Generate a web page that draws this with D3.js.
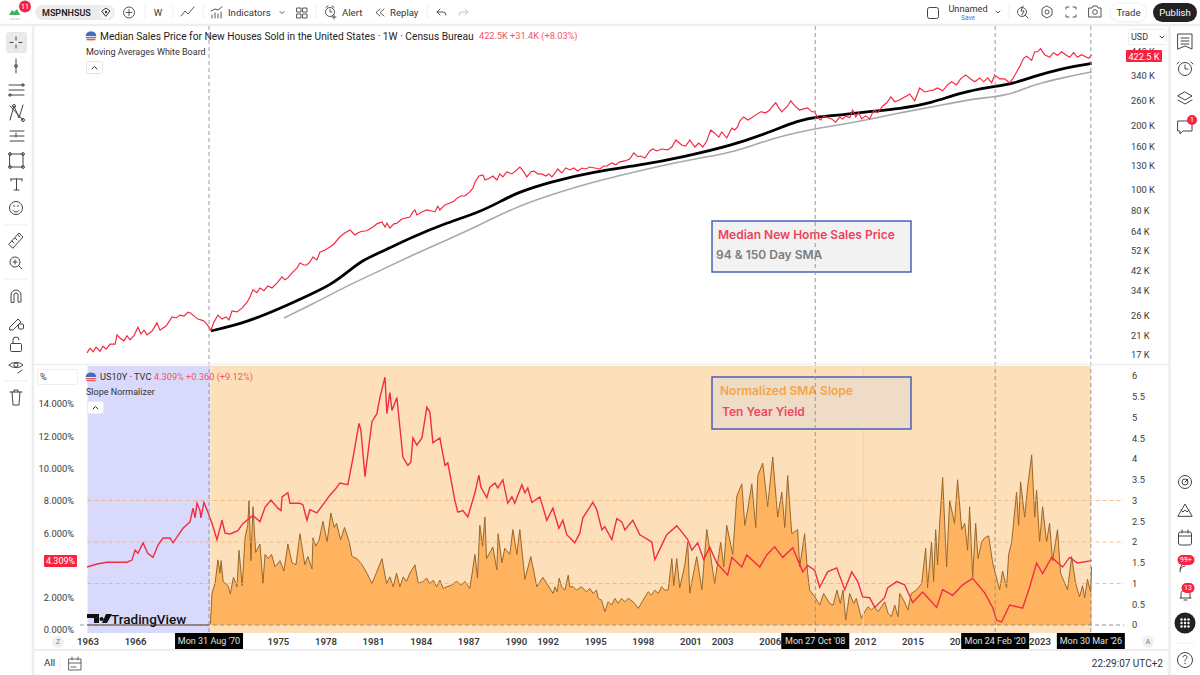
<!DOCTYPE html>
<html>
<head>
<meta charset="utf-8">
<script src="https://cdn.jsdelivr.net/npm/d3@7"></script>
<style>
  html, body { margin: 0; padding: 0; background: #fff; }
  svg { display: block; font-family: Roboto, sans-serif; }
  .tick text { fill: #3a3a3a; }
</style>
</head>
<body>
<div id="chart"></div>
<script>
// median new house price (thousand USD)
var priceDates = [1962.97,1963.16,1963.35,1963.54,1963.79,1963.98,1964.17,1964.42,1964.74,1964.86,1965.05,1965.3,1965.49,1965.68,1965.93,1966.18,1966.37,1966.56,1966.75,1967.07,1967.38,1967.57,1967.76,1967.95,1968.33,1968.58,1968.83,1969.08,1969.33,1969.52,1969.78,1969.96,1970.28,1970.41,1970.59,1970.78,1970.97,1971.22,1971.48,1971.73,1971.92,1972.11,1972.42,1972.74,1973.05,1973.24,1973.43,1973.68,1973.87,1974.12,1974.37,1974.63,1974.94,1975.26,1975.45,1975.63,1975.95,1976.2,1976.39,1976.64,1976.83,1977.02,1977.21,1977.46,1977.65,1977.97,1978.28,1978.53,1978.91,1979.22,1979.54,1979.73,1979.86,1980.04,1980.23,1980.61,1980.99,1981.24,1981.56,1981.75,1981.87,1982.06,1982.31,1982.5,1982.82,1983.07,1983.32,1983.51,1983.64,1983.76,1984.08,1984.39,1984.7,1984.9,1985.08,1985.21,1985.53,1985.84,1986.09,1986.28,1986.53,1986.78,1987.1,1987.29,1987.42,1987.67,1987.92,1988.05,1988.36,1988.55,1988.8,1988.99,1989.18,1989.43,1989.75,1990.06,1990.25,1990.5,1990.69,1990.94,1991.13,1991.38,1991.64,1991.89,1992.08,1992.27,1992.52,1992.64,1992.9,1993.15,1993.4,1993.65,1993.9,1994.16,1994.41,1994.66,1995.29,1995.54,1995.73,1996.05,1996.3,1996.55,1996.87,1997.18,1997.43,1997.68,1997.87,1998.13,1998.44,1998.63,1998.88,1999.2,1999.57,1999.83,2000.08,2000.45,2000.71,2000.96,2001.28,2001.53,2001.78,2002.03,2002.28,2002.53,2002.79,2002.98,2003.29,2003.61,2003.79,2003.98,2004.11,2004.36,2004.61,2004.87,2005.12,2005.43,2005.75,2006.0,2006.19,2006.38,2006.57,2006.76,2007.13,2007.32,2007.58,2007.89,2008.14,2008.39,2008.65,2008.83,2009.02,2009.22,2009.41,2009.65,2009.91,2010.16,2010.41,2010.6,2010.79,2011.04,2011.23,2011.42,2011.61,2011.8,2012.05,2012.3,2012.56,2012.81,2013.12,2013.38,2013.63,2013.88,2014.19,2014.5,2014.63,2014.82,2015.14,2015.45,2015.77,2016.08,2016.33,2016.58,2016.9,2017.21,2017.47,2017.77,2018.03,2018.35,2018.66,2018.92,2019.24,2019.49,2019.74,2019.99,2020.18,2020.49,2020.81,2021.12,2021.31,2021.56,2021.75,2022.0,2022.19,2022.51,2022.7,2022.89,2023.07,2023.33,2023.64,2023.89,2024.14,2024.4,2024.65,2024.9,2025.15,2025.4,2025.65,2025.85,2026.1,2026.29];
var priceValues = [17.4,18.3,17.6,18.5,17.7,18.7,18.1,19.1,19.1,21.1,20.4,19.8,20.9,20,20.9,22.9,21.3,22.2,21.1,22,24,22.2,22.7,23.2,25.6,25.3,26.1,25.8,26.9,26.6,25.6,25,24.6,24.2,23.3,22.2,24.2,26.1,25,25.6,24.8,27.3,27,28.1,29.9,31.7,34.2,33.2,34.9,33.9,35.7,34.9,36.8,39.3,38.1,38.9,41.5,43.2,45.7,44.7,44.7,46.2,48.7,47.2,51.3,52.5,54.2,56,60.5,63,65.1,63,61.7,63,64,64.5,67.2,69.5,71,67.2,70,66.4,69.5,70,73.2,74,74.8,79,80.7,76.5,79,80.7,79.8,79,83.9,80.7,85.2,86.9,88.6,91.4,93.7,93.7,98,102,108.7,116.2,117.5,111.4,113.8,116.2,111.4,118.8,115,121.4,118.8,124,128,121.4,115,121.4,122.7,118.8,118.8,116.2,118.8,115,121.4,125.3,120,126.6,124,126.6,122.7,126.6,125.3,128,125.3,129.4,129.4,133.7,131,135.2,136.6,139.5,149,143,144,141,152,155.3,152,155.3,153.7,158.6,171,162,160.2,171,158.6,165.5,158.6,169,190.5,184,176.5,186.4,174.6,194.5,190.5,197,209.5,219,212,217,224,231.5,229,236,246.5,255,241.5,231.5,246.5,260.5,246.5,236,239,241.5,231.5,231.5,217,212,221.5,217,214.5,207,219,214.5,221.5,217,236,219,229,214.5,221.5,214.5,236,229,246.5,255,271.5,258,263,271.5,274.5,280.5,260.5,299,286.5,290,293,299,290,309,319.5,309,329.5,344,329.5,319.5,333,319.5,333,316,344,329.5,329.5,316,329.5,355,376,411,420,402,441,441,456,427,415.5,436.5,424.5,441,427,415.5,436.5,415.5,427,420,411,427,398,422.5];

// 94 and 150 period moving averages of the price
var sma94Dates = [1970.78,1973.05,1975.13,1977.21,1978.28,1979.35,1980.36,1981.43,1983.51,1985.65,1987.73,1989.06,1990.06,1992.14,1994.85,1998.0,2000.52,2003.67,2005.81,2007.89,2008.96,2011.04,2012.11,2014.19,2016.27,2017.97,2020.05,2021.31,2022.57,2024.27,2026.29];
var sma94Values = [22,24.2,28,33,36,41.2,47.2,51,60.5,70.3,79,88.6,97,109,121.4,131,142.5,162,184,212,219,226,231.5,239,255,284,303,313,337,367,389];
var sma150Dates = [1975.38,1977.21,1979.35,1981.43,1983.51,1985.65,1987.73,1989.81,1992.14,1994.85,1998.44,2001.59,2003.92,2005.81,2008.33,2011.04,2012.11,2014.19,2016.27,2018.41,2020.05,2021.31,2022.57,2024.7,2026.29];
var sma150Values = [25.3,29.4,35.7,42,49.8,58.5,68.7,82.1,94.8,109,126.6,141,151,171,190.5,205,212,229,244,263,271.5,280.5,309,337,355];

// US ten year yield (%)
var yieldDates = [1962.97,1963.6,1964.23,1965.49,1965.8,1966.0,1966.18,1966.5,1966.8,1967.13,1967.44,1967.76,1968.2,1968.39,1969.02,1969.46,1969.65,1969.78,1969.9,1970.09,1970.15,1970.34,1970.59,1970.85,1971.16,1971.48,1971.67,1971.98,1972.48,1972.8,1973.43,1973.87,1974.19,1974.56,1975.0,1975.2,1975.26,1975.63,1975.76,1976.39,1976.58,1976.83,1977.02,1977.46,1978.28,1978.6,1978.91,1979.41,1979.73,1980.11,1980.23,1980.49,1980.74,1980.93,1981.24,1981.43,1981.75,1981.87,1982.06,1982.19,1982.5,1982.88,1983.19,1983.38,1983.51,1983.76,1984.08,1984.39,1984.58,1984.77,1985.21,1985.53,1985.71,1986.15,1986.34,1986.66,1986.97,1987.42,1987.67,1987.79,1988.17,1988.36,1988.68,1988.86,1989.18,1989.49,1989.75,1989.93,1990.38,1990.57,1990.75,1991.01,1991.51,1991.95,1992.33,1992.71,1992.96,1993.21,1993.71,1994.03,1994.22,1994.85,1995.1,1995.42,1995.6,1996.05,1996.36,1996.68,1996.87,1997.37,1997.81,1998.57,1998.76,1999.26,1999.51,2000.14,2000.52,2000.83,2001.09,2001.46,2001.84,2002.22,2002.66,2003.35,2003.61,2004.24,2004.55,2005.37,2005.81,2006.31,2006.82,2007.45,2008.08,2008.39,2008.83,2009.15,2009.65,2010.22,2010.73,2011.17,2011.55,2011.86,2012.3,2012.62,2013.24,2013.43,2014.0,2014.5,2015.01,2015.64,2016.52,2016.9,2017.53,2018.16,2018.79,2019.55,2020.05,2020.3,2020.62,2021.12,2021.94,2022.38,2022.82,2023.2,2023.77,2024.46,2024.9,2025.4,2026.29];
var yieldValues = [3.9,4.09,4.2,4.2,4.33,4.95,4.75,5.4,4.75,4.5,5.25,5.7,5.7,5.4,6.3,6.7,7.55,6.95,7.85,7.4,6.95,7.9,7.3,6.6,5.6,6.8,6,5.95,6.15,6.6,7.1,6.7,7.6,8.05,7.55,7.4,8.25,8.5,7.85,7.85,7.75,6.8,7.45,7.25,8.35,8.7,9.1,9,10.65,12.8,12.4,9.5,11.45,12.9,13.4,14.4,15.66,13.4,14.7,13.6,14.4,10.7,10.2,10.4,11.9,11.45,11.9,13.8,13.5,11.6,11.9,10.2,10.35,8.05,7.3,7.4,7,8.5,9.6,8.85,8.2,8.85,9.1,8.8,9.3,7.85,8.25,7.85,9,8.5,8.8,7.9,8.25,6.8,7.55,6.3,6.8,5.9,5.4,6,6.95,7.9,7.45,6.2,6.4,5.6,6.9,6.7,6.2,6.8,5.9,5.45,4.35,5.4,5.9,6.45,6,5.6,4.95,5.4,4.35,5.15,4.15,3.4,4.5,3.9,4.65,3.9,4.65,5.15,4.5,5.1,3.6,4,3.7,2.65,3.6,3.85,2.5,3.6,3,2.05,2,1.4,2,2.6,3,2.8,1.7,2.35,1.4,2.5,2.15,2.8,3.2,2.3,1.4,0.6,0.5,1.55,1.35,2.65,4.15,3.5,4.5,3.9,4.5,4.15,4.3];

// normalized SMA slope (right scale)
var slopeDates = [1962.97,1970.66,1970.75,1970.85,1971.04,1971.22,1971.35,1971.42,1971.55,1971.85,1972.0,1972.2,1972.42,1972.55,1972.75,1972.93,1973.1,1973.18,1973.3,1973.43,1973.6,1973.87,1974.06,1974.19,1974.4,1974.6,1974.82,1975.13,1975.38,1975.63,1975.89,1976.14,1976.39,1976.7,1976.89,1977.15,1977.21,1977.4,1977.6,1977.84,1978.1,1978.34,1978.55,1978.7,1978.95,1979.2,1979.5,1979.67,1979.98,1980.3,1980.61,1980.93,1981.2,1981.56,1981.85,1982.06,1982.27,1982.48,1982.69,1982.9,1983.11,1983.32,1983.64,1983.85,1984.16,1984.37,1984.58,1984.79,1985.0,1985.21,1985.42,1985.63,1985.95,1986.26,1986.57,1986.78,1987.1,1987.42,1987.58,1987.73,1987.9,1988.05,1988.15,1988.55,1988.8,1988.88,1989.12,1989.3,1989.62,1989.81,1990.06,1990.25,1990.57,1990.94,1991.32,1991.7,1992.35,1992.46,1992.6,1992.73,1992.88,1993.09,1993.3,1993.4,1993.61,1993.82,1994.14,1994.45,1994.66,1994.87,1995.08,1995.19,1995.4,1995.61,1995.82,1996.03,1996.24,1996.45,1996.66,1996.87,1997.08,1997.39,1997.71,1998.02,1998.34,1998.55,1998.76,1998.97,1999.18,1999.39,1999.6,1999.83,1999.95,2000.14,2000.33,2000.65,2000.83,2000.96,2001.4,2001.72,2002.03,2002.53,2002.91,2003.1,2003.29,2003.67,2003.92,2004.24,2004.43,2004.62,2004.87,2005.12,2005.25,2005.56,2005.87,2006.19,2006.5,2006.76,2006.95,2007.13,2007.39,2007.76,2007.89,2008.2,2008.39,2008.52,2008.84,2009.15,2009.4,2009.78,2010.0,2010.24,2010.45,2010.62,2010.79,2011.04,2011.29,2011.46,2011.78,2011.99,2012.2,2012.41,2012.62,2012.83,2013.04,2013.25,2013.46,2013.67,2013.88,2014.09,2014.19,2014.44,2014.71,2014.92,2015.24,2015.58,2015.83,2015.95,2016.2,2016.33,2016.46,2016.58,2016.71,2016.9,2017.15,2017.34,2017.65,2017.84,2018.1,2018.29,2018.47,2018.6,2018.79,2018.98,2019.13,2019.36,2019.55,2019.8,2020.05,2020.49,2020.68,2020.93,2021.06,2021.25,2021.56,2021.69,2021.81,2022.07,2022.25,2022.51,2022.7,2022.82,2023.01,2023.2,2023.45,2023.64,2023.83,2024.14,2024.33,2024.77,2025.03,2025.28,2025.53,2025.72,2025.85,2026.03,2026.22,2026.29];
var slopeValues = [0,0,0.05,0.77,1,1.57,1.25,1.55,1.05,0.95,0.75,1.15,0.92,1.8,0.95,2.1,2.4,3,1.55,2.85,1.75,1.95,1,1.7,1.6,1.7,1.4,1.55,1.3,1.95,1.5,1.45,2.2,1.45,1.65,1.35,2.1,1.9,2.05,2.5,2,2.7,2.35,2.45,2.05,2.35,2,1.65,1.6,1.45,1.25,1,1.25,1.6,1,1.16,0.92,1.25,0.92,1.16,1.05,1.25,1.45,1,1.05,1.13,1,1.08,0.92,1.08,0.88,0.92,0.96,1.05,0.96,1.05,0.88,1.7,1.13,2.4,1.9,2.6,1.6,1.88,1.33,2.2,1.5,1.85,1.7,2.3,1.7,2.3,1.1,1.65,0.92,1.15,0.76,0.92,0.8,1.13,0.92,0.84,1.2,0.92,0.92,0.84,0.92,0.8,0.88,0.76,0.84,0.64,0.6,0.32,0.56,0.48,0.64,0.52,0.64,0.56,0.64,0.56,0.4,0.6,0.8,0.72,0.84,0.76,0.92,0.84,0.84,1.6,0.95,1.6,0.9,1.45,2,0.77,1.65,0.85,2.3,1,2,1.4,2.4,1.7,3.1,3.4,2.4,2.8,3.4,2.35,3.6,3.9,2.85,4.05,2.6,3.2,2.35,3.6,2.2,2.3,1.4,2.2,1.25,0.84,0.68,0.48,0.76,0.52,0.48,0.84,0.52,0.84,0.12,0.76,0.52,0.64,0.16,0.32,0.44,0.36,0.44,0.32,0.44,0.56,0.28,0.2,0.48,0.2,0.76,0.6,0.36,0.76,0.84,1,1.85,0.9,2,1.05,2.3,1.45,2.45,3.55,1.4,3,2.45,3.5,2.3,2.45,1.8,2.85,1.15,2.45,1.6,2,2.1,2.15,1.5,0.85,1.3,0.9,1.7,2,3.2,2.4,3.45,2.6,3.3,4.1,2.6,3.25,2,2.85,2,2.45,1.55,2.3,1.25,0.85,1.65,1,0.68,0.95,0.65,1.1,0.8,1.4];

// axis labels
var priceTicks = [17,21,26,34,42,52,64,80,100,130,160,200,260,340,440];
var yieldTicks = [0,2,6,8,10,12,14];
var slopeTicks = [0,0.5,1,1.5,2,2.5,3,3.5,4,4.5,5,5.5,6];
var yearTicks = [1963,1966,1975,1978,1981,1984,1987,1990,1992,1995,1998,2001,2003,2006,2012,2015,2018,2023];
var slopeLevels = [1,2,3];
// crosshair dates and their tags
var markerDates = [1970.66,2008.87,2020.21,2026.24];
var markerLabels = ["Mon 31 Aug '70","Mon 27 Oct '08","Mon 24 Feb '20","Mon 30 Mar '26"];

var width = 1200, height = 675;
var red = "#f7233f", ink = "#2a2e39";

var svg = d3.select("#chart").append("svg")
    .attr("width", width)
    .attr("height", height);

// scales
var x = d3.scaleLinear().domain([1963, 2026.25]).range([87.5, 1091]);
var yPrice = d3.scaleLog().domain([17, 340]).range([355, 76]);
var yYield = d3.scaleLinear().domain([0, 14]).range([630, 404]);
var ySlope = d3.scaleLinear().domain([0, 6]).range([625, 376]);

// pane backgrounds
svg.append("rect").attr("x", x(1963)).attr("y", 366)
    .attr("width", x(1970.75) - x(1963)).attr("height", 267).attr("fill", "#d9d9fb");
svg.append("rect").attr("x", x(1970.75)).attr("y", 366)
    .attr("width", x(2026.25) - x(1970.75)).attr("height", 267).attr("fill", "#fddfba");

// slope area and line
var slopePoints = slopeDates.map(function(d, i) { return [d, slopeValues[i]]; });
svg.append("path").datum(slopePoints)
    .attr("fill", "#ffb35f")
    .attr("d", d3.area()
        .x(function(d) { return x(d[0]); })
        .y0(ySlope(0))
        .y1(function(d) { return ySlope(d[1]); }));
svg.append("path").datum(slopePoints)
    .attr("fill", "none").attr("stroke", "#97672e").attr("stroke-width", 1)
    .attr("d", d3.line()
        .x(function(d) { return x(d[0]); })
        .y(function(d) { return ySlope(d[1]); }));

// slope level guides
svg.selectAll(".level").data(slopeLevels).enter().append("line")
    .attr("x1", x(1963)).attr("x2", 1124)
    .attr("y1", function(d) { return ySlope(d); })
    .attr("y2", function(d) { return ySlope(d); })
    .attr("stroke", "#f0b070").attr("stroke-width", 0.8).attr("stroke-dasharray", "4,3");
svg.append("line").attr("x1", 80).attr("x2", 1124).attr("y1", ySlope(0)).attr("y2", ySlope(0))
    .attr("stroke", "#8a8a8a").attr("stroke-width", 0.9).attr("stroke-dasharray", "4,3");
svg.append("line").attr("x1", x(1963)).attr("x2", x(1970.66)).attr("y1", ySlope(0)).attr("y2", ySlope(0))
    .attr("stroke", "#77727f").attr("stroke-width", 1.2);

// faint vertical grid line in the lower pane
svg.append("line").attr("x1", x(2011.9)).attr("x2", x(2011.9)).attr("y1", 366).attr("y2", 633)
    .attr("stroke", "#d9d3ee").attr("stroke-width", 1);

// yield
svg.append("path").datum(yieldDates.map(function(d, i) { return [d, yieldValues[i]]; }))
    .attr("fill", "none").attr("stroke", "#f22c45").attr("stroke-width", 1.4)
    .attr("d", d3.line()
        .x(function(d) { return x(d[0]); })
        .y(function(d) { return yYield(d[1]); }));

// price and moving averages
function priceLine(curve) {
    var l = d3.line()
        .x(function(d) { return x(d[0]); })
        .y(function(d) { return yPrice(d[1]); });
    return curve ? l.curve(curve) : l;
}
svg.append("path").datum(sma150Dates.map(function(d, i) { return [d, sma150Values[i]]; }))
    .attr("fill", "none").attr("stroke", "#a9a9a9").attr("stroke-width", 1.6)
    .attr("d", priceLine(d3.curveBasis));
svg.append("path").datum(sma94Dates.map(function(d, i) { return [d, sma94Values[i]]; }))
    .attr("fill", "none").attr("stroke", "#000").attr("stroke-width", 2.8)
    .attr("d", priceLine(d3.curveBasis));
svg.append("path").datum(priceDates.map(function(d, i) { return [d, priceValues[i]]; }))
    .attr("fill", "none").attr("stroke", red).attr("stroke-width", 1.15)
    .attr("d", priceLine());

// annotation boxes
function noteBox(y0, y1, fill) {
    svg.append("rect").attr("x", 712).attr("y", y0).attr("width", 199).attr("height", y1 - y0)
        .attr("fill", fill).attr("stroke", "#3b57b8").attr("stroke-width", 1.4);
}
function noteText(tx, ty, s, color) {
    svg.append("text").attr("x", tx).attr("y", ty).attr("dy", "0.35em")
        .attr("font-family", "Inter, sans-serif")
        .attr("font-size", 12).attr("font-weight", 600).attr("fill", color).text(s);
}
noteBox(221, 272, "#f2f2f2");
noteText(718, 235, "Median New Home Sales Price", "#f0415a");
noteText(716, 255, "94 & 150 Day SMA", "#7c7c7c");
noteBox(377, 429, "#eedcc7");
noteText(720, 391, "Normalized SMA Slope", "#f5a548");
noteText(722, 412, "Ten Year Yield", "#ec4a5e");

// crosshair markers
svg.selectAll(".marker").data(markerDates).enter().append("line")
    .attr("x1", function(d) { return x(d); })
    .attr("x2", function(d) { return x(d); })
    .attr("y1", 26).attr("y2", 633)
    .attr("stroke", "#8d8d99").attr("stroke-width", 0.9).attr("stroke-dasharray", "4,3");

// axes
var priceAxis = d3.axisRight(yPrice).tickValues(priceTicks).tickSize(0)
    .tickFormat(function(d) { return d + " K"; });
var gp = svg.append("g").attr("transform", "translate(1128,0)").call(priceAxis);
var yieldAxis = d3.axisLeft(yYield).tickValues(yieldTicks).tickSize(0)
    .tickFormat(function(d) { return d.toFixed(3) + "%"; });
var gy = svg.append("g").attr("transform", "translate(77,0)").call(yieldAxis);
var slopeAxis = d3.axisRight(ySlope).tickValues(slopeTicks).tickSize(0)
    .tickFormat(function(d) { return d; });
var gs = svg.append("g").attr("transform", "translate(1129,0)").call(slopeAxis);
var timeAxis = d3.axisBottom(x).tickValues(yearTicks).tickSize(0)
    .tickFormat(function(d) { return d; });
var gt = svg.append("g").attr("transform", "translate(0,633)").call(timeAxis);
[gp, gy, gs, gt].forEach(function(g) {
    g.select(".domain").remove();
    g.selectAll("text").attr("font-family", "Roboto, sans-serif").attr("font-size", 9.3);
});
gt.selectAll("text").attr("font-size", 9.6).attr("font-weight", 600).attr("y", 5);

// date tags over the time axis
markerDates.forEach(function(d, i) {
    var cx = x(d);
    svg.append("rect").attr("x", cx - 34).attr("y", 633).attr("width", 68).attr("height", 16).attr("fill", "#000");
    svg.append("text").attr("x", cx).attr("y", 641).attr("dy", "0.35em").attr("text-anchor", "middle")
        .attr("font-size", 9).attr("fill", "#e0e0e0").text(markerLabels[i]);
});

// pane frame and chrome lines
function rule(x1, y1, x2, y2, w, c) {
    svg.append("line").attr("x1", x1).attr("y1", y1).attr("x2", x2).attr("y2", y2)
        .attr("stroke", c || "#eeeeee").attr("stroke-width", w || 2);
}
rule(0, 25, 1200, 25, 2.5);
rule(33, 25, 33, 675, 2.5);
rule(1169.5, 25, 1169.5, 675, 2.5);
rule(33, 650, 1170, 650, 2);
rule(33, 364.5, 1170, 364.5, 1.5);

function label(tx, ty, s, size, color, opts) {
    opts = opts || {};
    return svg.append("text").attr("x", tx).attr("y", ty).attr("dy", "0.35em")
        .attr("font-size", size).attr("fill", color || ink)
        .attr("font-weight", opts.weight || 400)
        .attr("text-anchor", opts.anchor || "start").text(s);
}
function stroke(d, color, w) {
    svg.append("path").attr("d", d).attr("fill", "none")
        .attr("stroke", color || "#555").attr("stroke-width", w || 1)
        .attr("stroke-linecap", "round").attr("stroke-linejoin", "round");
}
function ring(cx, cy, r, color, w) {
    svg.append("circle").attr("cx", cx).attr("cy", cy).attr("r", r).attr("fill", "none")
        .attr("stroke", color || "#555").attr("stroke-width", w || 1);
}
function dot(cx, cy, r, color) {
    svg.append("circle").attr("cx", cx).attr("cy", cy).attr("r", r).attr("fill", color);
}
function pill(px, py, w, h, r, fill, line) {
    svg.append("rect").attr("x", px).attr("y", py).attr("width", w).attr("height", h).attr("rx", r)
        .attr("fill", fill).attr("stroke", line || "none");
}
function badge(cx, cy, w, s) {
    pill(cx - w / 2, cy - 5, w, 10, 5, "#f7233f");
    label(cx, cy, s, 7, "#fff", {anchor: "middle"});
}
function flag(cx, cy) {
    dot(cx, cy, 5.5, "#e8e8e8");
    svg.append("path").attr("d", "M" + (cx - 5.2) + "," + (cy + 1.6) + "h10.4M" + (cx - 4.4) + "," + (cy + 3.6) + "h8.8")
        .attr("stroke", "#e8505f").attr("stroke-width", 1.2);
    svg.append("path").attr("d", "M" + (cx - 5.4) + "," + cy + "a5.5,5.5 0 0 1 10.8,0z").attr("fill", "#3f6fc4");
}

// legends
flag(91, 36);
label(100, 36, "Median Sales Price for New Houses Sold in the United States · 1W · Census Bureau", 10.2, "#222");
label(479, 36, "422.5K  +31.4K (+8.03%)", 9.2, "#f0566a");
label(86, 52, "Moving Averages White Board", 9, "#333");
pill(86.5, 61.5, 16, 12, 2, "#fff", "#e4e4e4");
stroke("M92,69l2.5,-2.5l2.5,2.5", "#333", 1);
flag(91, 377);
label(100, 377, "US10Y · TVC", 9.2, "#333");
label(154, 377, "4.309%  +0.360 (+9.12%)", 9.2, "#f0566a");
label(86, 392, "Slope Normalizer", 9, "#333");
pill(87.5, 401.5, 16, 12, 2, "#fff", "#efe9ee");
stroke("M93,409l2.5,-2.5l2.5,2.5", "#333", 1);

// price scale boxes and value tags
pill(1128.5, 29.5, 38, 15, 1, "#fff", "#eeeeee");
label(1131, 37, "USD", 9, "#333");
stroke("M1160,36l2,2l2,-2", "#333", 0.9);
pill(1126, 50, 36, 12, 1, "#f7233f");
label(1144, 56.5, "422.5 K", 9.2, "#fff", {anchor: "middle"});
pill(37.5, 369.5, 40, 15, 1, "#fff", "#eeeeee");
label(40, 377, "%", 9, "#333");
pill(44, 555, 33, 12, 1, "#f7233f");
label(60.5, 561, "4.309%", 9, "#fff", {anchor: "middle"});

// TradingView watermark
svg.append("path").attr("d", "M87,614h12v9h-5v-5h-7zM101.5,617a2,2 0 1 0 .01,0zM106,614h6l-5,9h-5z").attr("fill", "#111");
label(111, 619.5, "TradingView", 13.5, "#111", {weight: 500});

// bottom row
dot(58, 642, 6, "#f0f0f0");
label(58, 642, "Z", 7, "#777", {anchor: "middle"});
dot(1148, 642, 6, "#f0f0f0");
label(1148, 642, "A", 7, "#777", {anchor: "middle"});
label(44, 663, "All", 9.8, "#333");
rule(60, 656, 60, 670, 1, "#eeeeee");
stroke("M69,659h12v11h-12zM69,663h12M72,657v3M78,657v3M71,667h5", "#555", 0.9);
label(1163, 663, "22:29:07 UTC+2", 10, "#333", {anchor: "end"});

// top bar
svg.append("path").attr("d", "M9,15l3,-5l2,2l3,-3l3,6z").attr("fill", "#45b063");
stroke("M10,19h10", "#ccc", 1);
dot(25, 6.5, 6, "#f7233f");
label(25, 6.5, "11", 7, "#fff", {anchor: "middle"});
pill(35, 5, 80, 15, 7.5, "#ececec");
label(42, 12.5, "MSPNHSUS", 9, "#222", {weight: 600});
dot(106, 12.5, 6.5, "#f7f7f7");
stroke("M102,11l4,-3l4,3l-4,5z", "#333", 1);
dot(106, 12, 1.2, "#333");
ring(129, 12.5, 5.5, "#444", 0.9);
stroke("M129,9.5v6M126,12.5h6", "#444", 0.9);
rule(145, 5, 145, 19, 1);
label(158, 12.5, "W", 9.5, "#333", {anchor: "middle"});
rule(173, 5, 173, 19, 1);
stroke("M181,16l4,-5l3,3l6,-7", "#444", 0.9);
rule(203, 5, 203, 19, 1);
stroke("M212,18v-3M215,18v-5M218,18v-4M221,18v-6M211,11l4,-2l3,1l4,-3", "#444", 0.9);
label(228, 12.5, "Indicators", 9.6, "#333");
stroke("M280,11.5l2,2l2,-2", "#444", 0.9);
stroke("M297,8h4v4h-4zM303,8h4v4h-4zM297,14h4v4h-4zM303,14h4v4h-4z", "#444", 0.9);
rule(316, 5, 316, 19, 1);
ring(330, 12, 4.5, "#444", 0.9);
stroke("M330,9.5v2.5h2M328,6l-2,1.5M332,6l2,1.5M332,17h4M334,15v4", "#444", 0.9);
label(342, 12.5, "Alert", 9.6, "#333");
stroke("M380,9l-4,3.5l4,3.5M384,9l-4,3.5l4,3.5", "#444", 0.9);
label(390, 12.5, "Replay", 9.6, "#333");
rule(427, 5, 427, 19, 1);
stroke("M440,9l-3,3l3,3M437,12h6a3,3 0 0 1 3,3", "#444", 0.9);
stroke("M465,9l3,3l-3,3M468,12h-6a3,3 0 0 0 -3,3", "#bbb", 0.9);

pill(927.5, 7.5, 11, 11, 2, "none", "#444");
label(968, 9, "Unnamed", 9.2, "#333", {anchor: "middle"});
label(968, 18, "Save", 6.5, "#4a76e0", {anchor: "middle"});
stroke("M996,11l2,2l2,-2", "#444", 0.9);
rule(1009, 5, 1009, 19, 1);
ring(1022, 12, 4.5, "#444", 0.9);
stroke("M1025,15l3,3M1023,6l-2,5h3l-2,4", "#444", 0.9);
stroke("M1047,6l5,3v6l-5,3l-5,-3v-6z", "#444", 0.9);
ring(1047, 12, 2, "#444", 0.9);
stroke("M1066,9v-2h3M1073,7h3v2M1076,15v2h-3M1069,17h-3v-2", "#444", 0.9);
stroke("M1089,8h3l1,-2h4l1,2h3v9h-12z", "#444", 0.9);
ring(1095, 12, 2.3, "#444", 0.9);
pill(1110, 3, 37, 19, 9.5, "#fff", "#eeeeee");
label(1128.5, 12.5, "Trade", 9.6, "#333", {anchor: "middle"});
pill(1153, 3, 44, 19, 9.5, "#222");
label(1175, 12.5, "Publish", 9.6, "#fff", {anchor: "middle"});

// left tool strip
pill(6, 32, 21, 21, 3, "#e9e9e9");
var c = "#444";
stroke("M16,37v3M16,45v3M10,42.5h3M19,42.5h3", c);
stroke("M16,59v14", c); ring(16, 66, 1.4, c);
stroke("M9,85h15M9,90h15M9,95h15", c); ring(10, 95, 1.2, c); ring(23, 85, 1.2, c);
stroke("M10,120l4,-14l5,12l4,-13M10,106l13,14", c); ring(14, 106, 1.5, c); ring(23, 120, 1.5, c);
stroke("M10,131h14M10,136h14M10,141h14M16,133v4", c);
stroke("M10,154h13v13h-13z", c); ring(10, 154, 1.4, c); ring(23, 154, 1.4, c); ring(10, 167, 1.4, c); ring(23, 167, 1.4, c);
stroke("M11,179h11M11,179v2M22,179v2M16.5,179v11M14,190h5", c);
ring(16, 208, 6.5, c); stroke("M13,210.5a3.5,3.5 0 0 0 6,0", c); dot(14, 206, 0.8, c); dot(18, 206, 0.8, c);
rule(4, 225, 28, 225, 1);
stroke("M9,244l10,-11l4,4l-10,11zM12,241l2,2M15,238l2,2M18,235l2,2", c);
ring(15, 262, 5, c); stroke("M19,266l3,3M13,262h4M15,260v4", c);
rule(4, 279, 28, 279, 1);
stroke("M11,302v-7a5,5 0 0 1 10,0v7h-3v-7a2,2 0 0 0 -4,0v7z", c);
stroke("M10,327l8,-8l3,3l-8,8h-3z", c); pill(18.5, 324, 5, 5, 1, "#fff", c);
pill(10.5, 343.5, 11, 8, 1, "#fff", c); stroke("M13,343v-3a3,3 0 0 1 6,0", c);
ring(16, 365, 2, c); stroke("M9,365a8,5 0 0 1 14,0a8,5 0 0 1 -14,0M18,373l4,-3", c);
rule(4, 381, 28, 381, 1);
stroke("M10,392h12M12,392l1,13h6l1,-13M14,392v-2h4v2", c);

// right tool strip
var rx = 1185;
stroke("M1178,34h14v15l-7,-3l-7,3zM1181,38h8M1181,41h8M1181,44h8", c);
ring(rx, 69, 6.5, c); stroke("M1185,65v4h3M1179,62l-2,2M1191,62l2,2", c);
stroke("M1185,92l7,4l-7,4l-7,-4zM1178,100l7,4l7,-4", c);
stroke("M1178,121h14v10h-9l-3,3v-3h-2z", c);
badge(1192, 120, 10, "1");
ring(rx, 482, 6.5, c, 1); ring(rx, 482, 3, c); stroke("M1185,482l3,-3", c);
stroke("M1178,516l7,-12l7,12zM1181,510l2,2l2,-2l2,2l2,-2", c);
pill(1178.5, 532, 13, 13, 2, "none", c); stroke("M1179,536h12M1182,530v3M1188,530v3", c);
stroke("M1180,572a5,5 0 0 1 5,-6M1180,569a8,8 0 0 1 8,-7", c);
badge(1186, 560, 17, "99+");
stroke("M1180,598h11M1181,598v-4a4,4 0 0 1 9,0v4M1184,600h3", c);
badge(1188, 588, 13, "13");
dot(rx, 623, 10.5, "#222");
[-3.5, 0, 3.5].forEach(function(a) {
    [-3.5, 0, 3.5].forEach(function(b) { dot(rx + a, 623 + b, 1.2, "#fff"); });
});
rule(1176, 643, 1194, 643, 1);
ring(rx, 660, 7.5, c);
stroke("M1183,657a2,2 0 1 1 3,2c-1,.5 -1,1 -1,2", c);
dot(rx, 663.5, 0.7, c);
</script>
</body>
</html>
